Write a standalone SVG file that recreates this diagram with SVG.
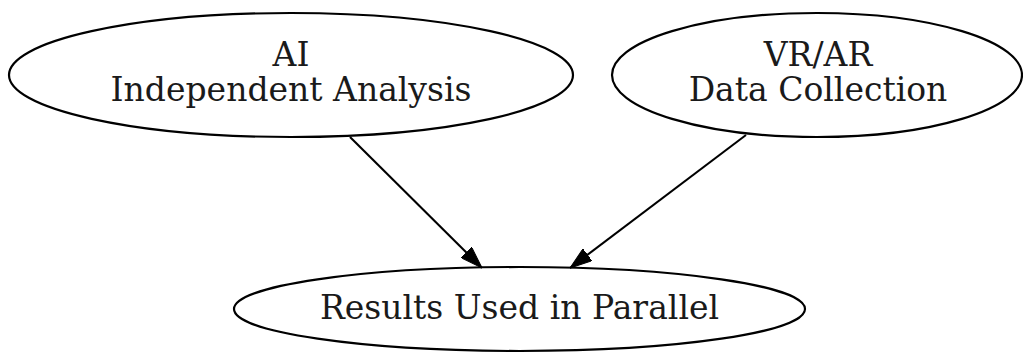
<svg xmlns="http://www.w3.org/2000/svg" width="1023" height="356" viewBox="0 0 1023 356">
  <style>
    .node ellipse { fill: none; stroke: #000; stroke-width: 2.2; }
    .node text { font-family: "DejaVu Serif", "Liberation Serif", serif; font-size: 33px; fill: #1a1a1a; text-anchor: middle; }
    .edge { fill: none; stroke: #000; stroke-width: 2.1; marker-end: url(#arrow); }
  </style>
  <defs>
    <marker id="arrow" viewBox="0 0 22 15" refX="22" refY="7.5" markerWidth="22" markerHeight="15" markerUnits="userSpaceOnUse" orient="auto">
      <path d="M0,0 L22,7.5 L0,15 Z" fill="#000" stroke="#000" stroke-width="1"/>
    </marker>
  </defs>
  <rect width="1023" height="356" fill="#fff"/>

  <g id="ai" class="node">
    <ellipse cx="291" cy="75" rx="282" ry="62"/>
    <text x="291" y="66">AI</text>
    <text x="291" y="101">Independent Analysis</text>
  </g>

  <g id="vrar" class="node">
    <ellipse cx="817" cy="75" rx="205" ry="62"/>
    <text x="818" y="66">VR/AR</text>
    <text x="818" y="101">Data Collection</text>
  </g>

  <g id="results" class="node">
    <ellipse cx="519.5" cy="309" rx="285.5" ry="42"/>
    <text x="519.5" y="319">Results Used in Parallel</text>
  </g>

  <g id="connectors">
    <path class="edge" d="M350,137 L482,268"/>
    <path class="edge" d="M746,135 L570,268"/>
  </g>
</svg>
